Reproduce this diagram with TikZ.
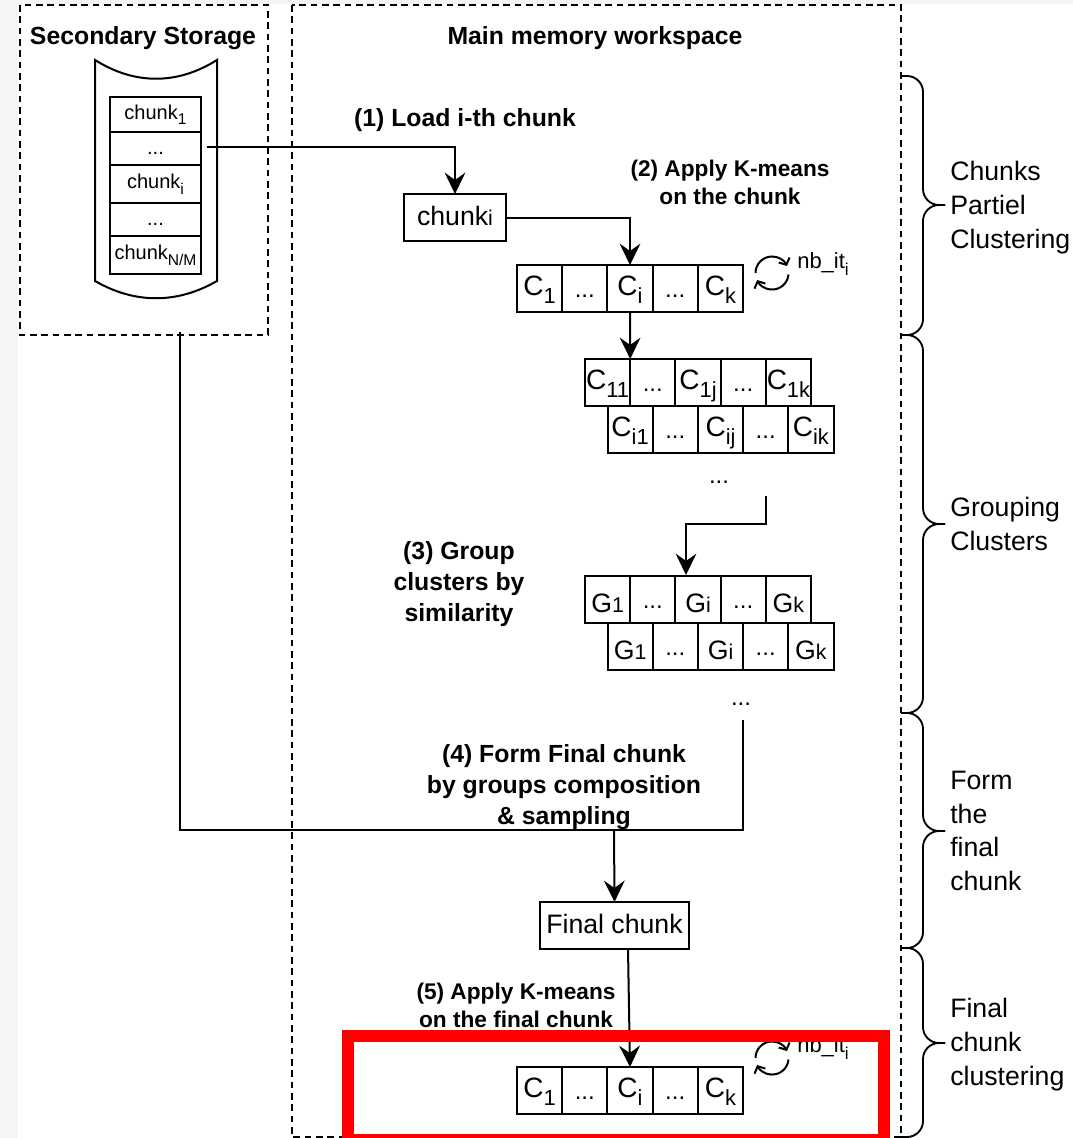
\documentclass[tikz,border=0pt]{standalone}
\usepackage{fontspec}
\setmainfont{Liberation Sans}
\usetikzlibrary{arrows.meta,positioning}
\definecolor{StripGray}{RGB}{245,245,245}
\newcommand{\smalltxt}[1]{{\fontsize{16}{18}\selectfont #1}}
\newcommand{\lowsub}[1]{\raisebox{-0.55ex}{\scalebox{0.78}{#1}}}
\tikzset{
  zone/.style={draw,line width=1.5pt,dash pattern=on 5pt off 3.5pt},
  cell/.style={draw,line width=1.5pt,minimum width=33.9pt,minimum height=35.25pt,
    inner sep=0pt,outer sep=0pt,text height=15pt,text depth=5pt,font=\fontsize{21}{24}\selectfont},
  dotcell/.style={cell,text height=14pt,text depth=0pt,font=\fontsize{18}{18}\selectfont},
  gcell/.style={cell,text height=20pt,text depth=0pt,font=\fontsize{20}{24}\selectfont},
  slot/.style={draw,line width=1.5pt,minimum width=68pt,inner sep=0pt,outer sep=0pt,
    text height=11pt,text depth=4pt,font=\fontsize{15}{18}\selectfont},
  dotslot/.style={slot,minimum height=24.75pt,text height=9pt,text depth=0pt},
  namebox/.style={draw,line width=1.5pt,minimum height=35.25pt,inner sep=0pt,outer sep=0pt,
    text depth=3pt,font=\fontsize{20}{24}\selectfont},
  title/.style={font=\bfseries\fontsize{18.6}{23}\selectfont,align=center},
  steptxt/.style={font=\bfseries\fontsize{17}{21}\selectfont,align=center},
  phase/.style={anchor=west,inner sep=0pt,align=left,font=\fontsize{20}{25.4}\selectfont},
  dotstxt/.style={font=\fontsize{18}{18}\selectfont},
  iter/.style={anchor=west,inner sep=0pt,font=\fontsize{16.5}{18}\selectfont},
  arrow/.style={-{Stealth[length=16pt,width=15.5pt,inset=5.5pt]},line width=1.5pt},
  link/.style={line width=1.5pt},
  turn/.style={-{Straight Barb[length=4pt,width=9pt]},line width=1.5pt},
  bracket/.style={line width=1.4pt,rounded corners=12pt}
}
\begin{document}
\begin{tikzpicture}[x=0.75pt,y=-0.75pt,node distance=0pt]
  \useasboundingbox (0,0) rectangle (1073,1138);
  \fill[StripGray] (0,0) rectangle (1073,4);
  \fill[StripGray] (0,0) rectangle (18,1138);

  % zones
  \draw[zone] (20,5) rectangle (268,335);
  \draw[zone] (292,5) rectangle (901,1137);
  \node[title] (sectitle) at (143,38) {Secondary Storage};
  \node[title] (maintitle) at (595,38) {Main memory workspace};

  % secondary storage
  \draw[link] (95,60) .. controls (135,85) and (177,85) .. (217,60) -- (217,281)
    .. controls (177,304) and (135,304) .. (95,281) -- cycle;
  \node[slot,minimum height=26.25pt] (s1) at (155.5,114.5) {chunk\lowsub{1}};
  \node[dotslot,below=of s1] (s2) {...};
  \node[slot,minimum height=28.5pt,below=of s2] (s3) {chunk\lowsub{i}};
  \node[dotslot,below=of s3] (s4) {...};
  \node[slot,minimum height=28.5pt,below=of s4] (s5) {chunk\lowsub{N/M}};

  % first clustering
  \node[namebox,minimum width=76.5pt] (chunki) at (455,217.5) {chunk\smalltxt{i}};
  \node[cell,anchor=west] (c1) at (517,288.5) {C\lowsub{1}};
  \node[dotcell,right=of c1] (c2) {...};
  \node[cell,right=of c2] (c3) {C\lowsub{i}};
  \node[dotcell,right=of c3] (c4) {...};
  \node[cell,right=of c4] (c5) {C\lowsub{k}};

  % clusters of each chunk
  \node[cell,anchor=west] (a1) at (585,382.5) {C\lowsub{11}};
  \node[dotcell,right=of a1] (a2) {...};
  \node[cell,right=of a2] (a3) {C\lowsub{1j}};
  \node[dotcell,right=of a3] (a4) {...};
  \node[cell,right=of a4] (a5) {C\lowsub{1k}};
  \node[cell,anchor=west] (b1) at (607.5,429.5) {C\lowsub{i1}};
  \node[dotcell,right=of b1] (b2) {...};
  \node[cell,right=of b2] (b3) {C\lowsub{ij}};
  \node[dotcell,right=of b3] (b4) {...};
  \node[cell,right=of b4] (b5) {C\lowsub{ik}};
  \node[dotstxt] (dotsa) at (719,482) {...};

  % groups
  \node[gcell,anchor=west] (g1) at (585,599.5) {G\smalltxt{1}};
  \node[dotcell,right=of g1] (g2) {...};
  \node[gcell,right=of g2] (g3) {G\smalltxt{i}};
  \node[dotcell,right=of g3] (g4) {...};
  \node[gcell,right=of g4] (g5) {G\smalltxt{k}};
  \node[gcell,anchor=west] (h1) at (607.5,646.5) {G\smalltxt{1}};
  \node[dotcell,right=of h1] (h2) {...};
  \node[gcell,right=of h2] (h3) {G\smalltxt{i}};
  \node[dotcell,right=of h3] (h4) {...};
  \node[gcell,right=of h4] (h5) {G\smalltxt{k}};
  \node[dotstxt] (dotsb) at (741,704) {...};

  % final chunk
  \node[namebox,minimum width=111.75pt] (final) at (614.5,925.5) {Final chunk};
  \node[cell,anchor=west] (f1) at (517,1090.5) {C\lowsub{1}};
  \node[dotcell,right=of f1] (f2) {...};
  \node[cell,right=of f2] (f3) {C\lowsub{i}};
  \node[dotcell,right=of f3] (f4) {...};
  \node[cell,right=of f4] (f5) {C\lowsub{k}};

  % step labels
  \node[title] (load) at (465,120) {(1) Load i-th chunk};
  \node[steptxt] (apply) at (730,182) {(2) Apply K-means\\on the chunk};
  \node[title] (group) at (459,584) {(3) Group\\clusters by\\similarity};
  \node[title] (form) at (564,787) {(4) Form Final chunk\\by groups composition\\\& sampling};
  \node[steptxt] (applyf) at (516,1005) {(5) Apply K-means\\on the final chunk};
  \node[iter] (nba) at (797,264) {nb\_it\lowsub{i}};
  \node[iter] (nbb) at (797,1048) {nb\_it\lowsub{i}};

  % loose ends of the connectors
  \coordinate (sout) at (207,147);
  \coordinate (cout) at (766,496);
  \coordinate (gin) at (686,575);
  \coordinate (gout) at (743,720);
  \coordinate (secout) at (180,332);
  \coordinate (merge) at (614,830);
  \coordinate (finalout) at (628,949);

  % connectors
  \draw[arrow] (sout) -| (chunki.north);
  \draw[arrow] (chunki.east) -| (c3.north);
  \draw[arrow] (c3.south) -- (a1.north east);
  \draw[arrow] (cout) |- (686,524) -- (gin);
  \draw[link] (gout) |- (secout |- merge) -- (secout);
  \draw[arrow] (merge) -- (final.north);
  \draw[arrow] (finalout) -- (f3.north);

  % iteration marks
  \foreach \cy in {273,1058}{
    \draw[turn] (755.5,\cy) arc[start angle=-180,end angle=-25,radius=16.5];
    \draw[turn] (788.5,\cy+1.5) arc[start angle=5,end angle=155,radius=16.5];
  }

  % phases on the right
  \foreach \ya/\yb/\yc in {76/205/335,335/524/713,713/831/948,948/1043/1137}{
    \draw[bracket] (901,\ya) -- (923,\ya) -- (923,\yb) -- (945,\yb);
    \draw[bracket] (945,\yb) -- (923,\yb) -- (923,\yc) -- (901,\yc);
  }
  \node[phase] (phasea) at (950,207.5) {Chunks\\Partiel\\Clustering};
  \node[phase] (phaseb) at (950,524) {Grouping\\Clusters};
  \node[phase] (phasec) at (950,831) {Form\\the\\final\\chunk};
  \node[phase] (phased) at (950,1044.5) {Final\\chunk\\clustering};

  % highlight
  \draw[red,line width=9pt] (348,1036) rectangle (884,1140);
\end{tikzpicture}
\end{document}
